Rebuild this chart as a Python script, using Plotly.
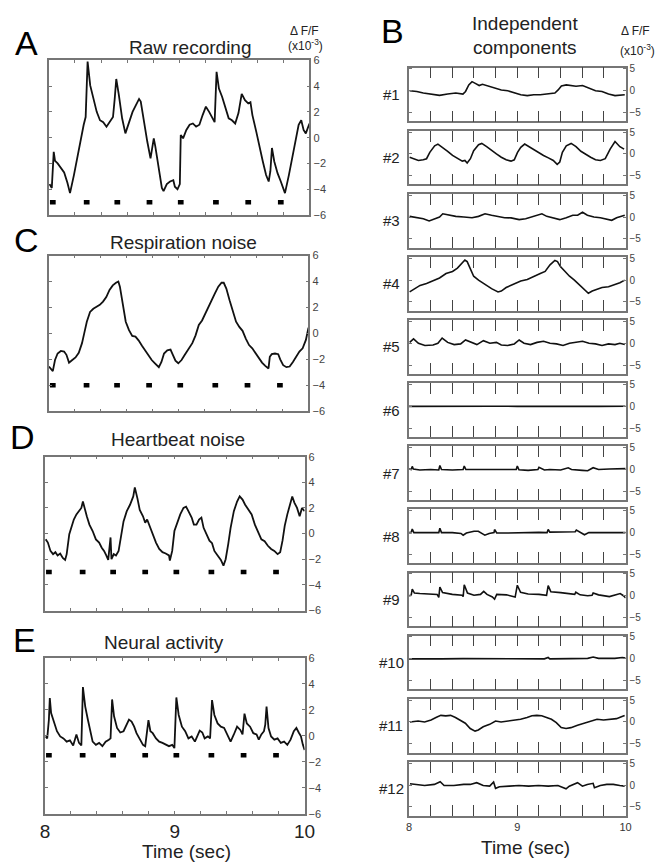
import plotly.graph_objects as go

W, H = 662, 868

# ---------------- data (time in s, dF/F x1e-3) ----------------
stim_times = [8.03, 8.29, 8.525, 8.772, 9.012, 9.282, 9.53, 9.78]
stim_level = {"A": -5.0, "C": -4.0, "D": -3.0, "E": -1.5}

raw_recording = [(8.005,-3.6),(8.022,-3.9),(8.037,-1.1),(8.047,-1.8),(8.067,-2.0),(8.092,-2.4),(8.117,-2.7),(8.142,-3.5),(8.162,-4.3),(8.192,-2.9),(8.217,-1.6),(8.242,-0.05),(8.267,1.0),(8.282,1.6),(8.297,5.9),(8.317,4.05),(8.342,3.0),(8.367,2.0),(8.392,1.35),(8.417,1.2),(8.442,0.85),(8.467,1.2),(8.492,1.6),(8.505,3.0),(8.517,4.55),(8.537,3.3),(8.562,1.5),(8.587,0.33),(8.612,1.1),(8.642,2.0),(8.667,2.5),(8.692,3.0),(8.705,2.8),(8.73,1.2),(8.755,-0.3),(8.78,-1.6),(8.792,-0.8),(8.805,-0.05),(8.817,-0.7),(8.842,-2.4),(8.867,-3.9),(8.88,-4.15),(8.905,-3.6),(8.93,-3.4),(8.955,-3.3),(8.967,-3.8),(8.987,-4.0),(9.005,-3.6),(9.012,0.2),(9.03,-0.05),(9.055,0.6),(9.08,1.0),(9.105,1.1),(9.13,0.85),(9.155,1.0),(9.18,1.75),(9.205,2.4),(9.23,2.0),(9.255,1.5),(9.272,1.2),(9.287,5.1),(9.305,3.8),(9.33,3.15),(9.355,2.25),(9.38,1.5),(9.405,1.35),(9.43,1.1),(9.455,1.9),(9.48,3.4),(9.505,2.9),(9.53,2.65),(9.547,2.75),(9.562,1.75),(9.592,0.45),(9.617,-0.8),(9.642,-1.85),(9.667,-2.9),(9.687,-3.4),(9.70,-2.6),(9.712,-0.8),(9.73,-1.85),(9.755,-2.75),(9.78,-3.4),(9.797,-3.8),(9.812,-4.3),(9.842,-2.9),(9.867,-1.6),(9.892,-0.05),(9.917,1.0),(9.937,1.35),(9.955,0.6),(9.972,0.33),(9.987,0.7),(10.0,1.1)]

respiration = [(8.0,-2.55),(8.03,-2.9),(8.047,-2.05),(8.067,-1.55),(8.092,-1.35),(8.117,-1.4),(8.135,-1.65),(8.155,-2.25),(8.18,-2.05),(8.205,-1.85),(8.23,-1.5),(8.255,-0.75),(8.272,0.0),(8.292,0.9),(8.317,1.65),(8.342,1.9),(8.367,2.05),(8.392,2.2),(8.417,2.45),(8.442,2.8),(8.467,3.35),(8.492,3.7),(8.517,3.9),(8.535,4.0),(8.547,3.6),(8.567,2.3),(8.592,0.9),(8.617,0.25),(8.642,-0.2),(8.667,-0.25),(8.692,-0.55),(8.717,-0.95),(8.742,-1.3),(8.767,-1.65),(8.792,-2.05),(8.817,-2.3),(8.847,-2.6),(8.867,-2.2),(8.887,-1.55),(8.912,-1.3),(8.937,-1.25),(8.955,-1.65),(8.975,-2.1),(8.997,-2.3),(9.022,-2.05),(9.047,-1.65),(9.072,-1.3),(9.105,-0.75),(9.13,-0.15),(9.155,0.65),(9.18,1.0),(9.205,1.55),(9.23,2.05),(9.255,2.55),(9.28,3.1),(9.305,3.6),(9.33,3.9),(9.347,3.9),(9.367,3.45),(9.392,2.55),(9.417,1.65),(9.442,0.9),(9.467,0.5),(9.492,0.2),(9.517,-0.4),(9.542,-0.9),(9.567,-1.15),(9.592,-1.55),(9.617,-1.9),(9.642,-2.25),(9.667,-2.5),(9.692,-2.7),(9.702,-1.8),(9.717,-1.6),(9.742,-1.55),(9.767,-1.6),(9.782,-2.0),(9.805,-2.45),(9.83,-2.6),(9.855,-2.55),(9.88,-2.2),(9.905,-1.8),(9.93,-1.4),(9.955,-1.15),(9.98,-0.5),(10.0,0.45)]

heartbeat = [(8.005,-0.45),(8.022,-0.7),(8.042,-1.35),(8.062,-1.6),(8.08,-1.45),(8.097,-1.7),(8.117,-1.55),(8.137,-1.9),(8.155,-2.05),(8.167,-1.6),(8.187,-0.05),(8.205,0.6),(8.222,1.1),(8.242,1.5),(8.262,1.75),(8.28,2.0),(8.292,2.5),(8.305,1.9),(8.322,1.35),(8.342,0.7),(8.367,0.2),(8.392,-0.45),(8.417,-0.7),(8.437,-1.1),(8.455,-1.35),(8.472,-1.7),(8.487,-2.05),(8.505,-0.3),(8.512,-2.0),(8.53,-1.6),(8.547,-1.7),(8.567,-1.35),(8.587,-0.05),(8.605,0.95),(8.63,1.75),(8.655,2.25),(8.68,2.9),(8.692,3.6),(8.712,2.75),(8.73,1.85),(8.755,1.35),(8.772,0.85),(8.787,1.1),(8.805,0.6),(8.83,-0.05),(8.855,-0.7),(8.88,-1.2),(8.905,-1.45),(8.93,-1.55),(8.955,-1.7),(8.962,-2.1),(8.98,-1.35),(8.997,0.2),(9.017,0.85),(9.042,1.5),(9.067,2.0),(9.087,2.1),(9.105,1.75),(9.13,1.25),(9.147,0.7),(9.167,0.7),(9.187,1.1),(9.205,1.25),(9.222,0.45),(9.242,-0.05),(9.267,-0.55),(9.287,-0.75),(9.305,-1.35),(9.33,-1.7),(9.355,-2.05),(9.375,-2.5),(9.392,-2.0),(9.412,-0.8),(9.43,0.45),(9.455,1.75),(9.48,2.5),(9.5,2.9),(9.522,2.65),(9.542,2.25),(9.567,1.85),(9.592,1.5),(9.617,0.7),(9.642,0.1),(9.667,-0.45),(9.692,-0.6),(9.717,-0.95),(9.742,-1.2),(9.767,-1.35),(9.792,-1.6),(9.812,-1.45),(9.83,-0.55),(9.847,0.6),(9.867,1.5),(9.887,2.25),(9.905,2.9),(9.922,2.4),(9.942,2.0),(9.962,1.35),(9.98,2.0),(10.0,1.75)]

neural = [(8.005,-0.05),(8.017,-0.2),(8.03,1.25),(8.037,2.9),(8.047,1.75),(8.067,1.1),(8.092,0.35),(8.117,-0.05),(8.142,-0.2),(8.167,-0.45),(8.192,-0.35),(8.217,-0.75),(8.242,0.1),(8.262,-0.55),(8.28,-0.75),(8.292,3.75),(8.31,2.25),(8.33,1.25),(8.347,0.35),(8.367,-0.45),(8.392,-0.7),(8.417,-0.55),(8.442,-0.8),(8.467,-0.45),(8.492,-0.3),(8.505,-0.2),(8.517,2.8),(8.532,1.5),(8.555,0.6),(8.58,0.25),(8.605,0.35),(8.63,0.95),(8.647,1.25),(8.667,1.1),(8.687,0.7),(8.705,0.2),(8.73,-0.2),(8.755,-0.7),(8.772,-0.8),(8.787,0.2),(8.797,1.2),(8.812,0.35),(8.83,0.2),(8.855,-0.2),(8.88,-0.45),(8.905,-0.55),(8.93,-0.7),(8.955,-0.8),(8.98,-0.7),(8.997,-0.95),(9.012,2.95),(9.03,1.6),(9.055,0.7),(9.08,0.35),(9.105,-0.2),(9.13,-0.05),(9.155,-0.45),(9.172,-0.05),(9.192,0.4),(9.212,0.25),(9.23,-0.2),(9.255,-0.05),(9.272,-0.2),(9.287,2.75),(9.305,1.6),(9.33,0.95),(9.355,0.7),(9.38,0.6),(9.405,0.1),(9.43,-0.45),(9.455,0.1),(9.48,0.7),(9.505,0.45),(9.522,0.1),(9.537,1.7),(9.555,0.95),(9.58,0.7),(9.605,0.2),(9.63,0.1),(9.647,-0.3),(9.667,0.1),(9.687,0.35),(9.697,0.85),(9.707,2.25),(9.722,0.6),(9.742,-0.05),(9.767,-0.3),(9.792,-0.2),(9.817,-0.55),(9.842,-0.45),(9.867,-0.7),(9.892,-0.3),(9.917,0.35),(9.937,0.6),(9.955,0.25),(9.972,-0.05),(9.987,-0.7),(10.0,-1.1)]

ic1 = [(8.006,0.0),(8.072,-0.15),(8.132,-0.5),(8.207,-0.75),(8.282,-1.05),(8.357,-0.75),(8.432,-0.5),(8.498,-0.75),(8.522,-0.15),(8.552,1.35),(8.582,2.1),(8.612,1.7),(8.648,1.2),(8.678,1.5),(8.717,1.2),(8.762,0.75),(8.807,0.45),(8.852,0.2),(8.912,0.0),(8.972,-0.5),(9.032,-0.9),(9.092,-1.1),(9.152,-0.9),(9.212,-0.9),(9.272,-0.75),(9.347,-0.5),(9.377,0.2),(9.407,1.1),(9.452,1.35),(9.497,1.2),(9.542,1.05),(9.602,1.2),(9.662,0.6),(9.722,0.0),(9.782,-0.15),(9.842,-0.75),(9.902,-1.1),(9.947,-1.05),(9.992,-0.9)]
ic2 = [(8.006,-0.75),(8.042,-1.1),(8.087,-1.5),(8.132,-1.35),(8.162,-1.1),(8.192,0.35),(8.237,1.85),(8.267,2.25),(8.312,1.5),(8.357,0.6),(8.402,-0.35),(8.447,-1.1),(8.492,-1.65),(8.516,-1.5),(8.537,-2.1),(8.567,-1.1),(8.597,0.75),(8.642,2.1),(8.672,2.4),(8.717,1.65),(8.762,0.75),(8.807,0.0),(8.852,-0.75),(8.897,-1.35),(8.942,-1.65),(8.972,-1.35),(9.002,0.35),(9.032,1.5),(9.068,2.25),(9.107,1.65),(9.152,0.9),(9.197,0.15),(9.242,-0.35),(9.287,-0.9),(9.332,-1.5),(9.368,-2.4),(9.392,-1.85),(9.416,0.35),(9.452,1.85),(9.497,2.4),(9.542,1.65),(9.587,0.6),(9.632,-0.15),(9.677,-0.75),(9.722,-1.35),(9.767,-1.5),(9.812,-1.1),(9.857,1.1),(9.902,2.85),(9.947,1.65),(9.986,1.1)]
ic3 = [(8.006,0.15),(8.072,-0.15),(8.132,-0.4),(8.186,-0.9),(8.237,-0.4),(8.282,0.0),(8.312,0.75),(8.372,0.4),(8.432,0.15),(8.507,0.0),(8.582,-0.15),(8.642,0.15),(8.702,0.75),(8.762,0.4),(8.822,0.15),(8.882,-0.15),(8.942,-0.2),(9.017,-0.6),(9.077,-0.4),(9.137,0.0),(9.182,0.4),(9.227,0.75),(9.272,0.15),(9.332,-0.15),(9.392,-0.6),(9.452,-0.15),(9.512,0.4),(9.557,0.4),(9.602,1.1),(9.647,0.4),(9.707,0.0),(9.767,-0.15),(9.827,-0.4),(9.872,-0.75),(9.917,-0.15),(9.992,0.4)]
ic4 = [(8.006,-2.7),(8.042,-2.1),(8.102,-1.2),(8.162,-0.75),(8.222,-0.2),(8.282,0.5),(8.342,1.5),(8.402,2.0),(8.447,2.75),(8.486,3.9),(8.516,4.6),(8.537,4.25),(8.567,2.4),(8.597,0.9),(8.642,0.0),(8.702,-1.0),(8.762,-1.95),(8.822,-2.7),(8.852,-2.5),(8.897,-1.7),(8.942,-1.2),(8.987,-0.75),(9.032,-0.2),(9.092,0.15),(9.152,0.75),(9.212,1.5),(9.257,2.0),(9.302,3.5),(9.347,4.5),(9.371,4.25),(9.398,3.1),(9.437,2.0),(9.482,0.9),(9.527,0.0),(9.572,-1.0),(9.617,-2.1),(9.656,-3.0),(9.692,-2.5),(9.737,-2.1),(9.782,-1.7),(9.842,-1.5),(9.902,-1.0),(9.947,-0.6),(9.992,0.0)]
ic5 = [(8.006,0.2),(8.042,1.0),(8.087,0.0),(8.147,-0.5),(8.222,-0.4),(8.267,0.0),(8.306,1.2),(8.357,0.2),(8.417,-0.3),(8.477,-0.15),(8.522,0.75),(8.582,0.2),(8.627,-0.3),(8.687,0.6),(8.747,0.0),(8.807,0.2),(8.852,-0.4),(8.912,-0.5),(8.972,-0.15),(9.017,0.75),(9.062,0.0),(9.122,-0.3),(9.182,0.2),(9.242,0.45),(9.302,0.0),(9.362,-0.15),(9.422,-0.5),(9.482,0.0),(9.542,0.2),(9.602,0.45),(9.662,0.0),(9.722,-0.15),(9.782,-0.5),(9.842,-0.15),(9.902,-0.3),(9.947,0.0),(9.992,-0.3)]
ic6 = [(8.0,0.0),(8.25,0.05),(8.5,-0.03),(8.75,0.04),(9.0,0.0),(9.25,-0.04),(9.5,0.03),(9.75,0.0),(10.0,0.02)]
ic7 = [(8.0,0.1),(8.02,0.0),(8.03,0.7),(8.04,0.1),(8.1,-0.1),(8.2,0.0),(8.275,-0.1),(8.285,0.9),(8.3,0.0),(8.4,-0.1),(8.5,0.0),(8.51,0.8),(8.525,0.0),(8.6,0.0),(8.7,-0.1),(8.8,0.05),(8.9,-0.1),(8.99,0.0),(9.0,0.8),(9.015,-0.05),(9.1,-0.2),(9.19,0.0),(9.2,0.5),(9.25,-0.1),(9.3,0.0),(9.4,-0.1),(9.47,0.4),(9.5,0.0),(9.6,-0.2),(9.65,-0.3),(9.7,0.4),(9.75,0.0),(9.85,0.1),(9.95,0.1),(10.0,0.2)]
ic8 = [(8.0,0.0),(8.02,0.0),(8.03,0.8),(8.045,0.0),(8.15,0.0),(8.25,-0.05),(8.275,0.0),(8.285,1.0),(8.3,0.0),(8.4,0.0),(8.48,-0.2),(8.5,-0.6),(8.53,-0.1),(8.6,0.3),(8.64,0.3),(8.68,-0.3),(8.7,-0.6),(8.74,-0.2),(8.785,0.0),(8.79,0.7),(8.81,-0.1),(8.9,-0.1),(9.0,0.0),(9.1,0.0),(9.2,0.05),(9.275,0.0),(9.285,0.7),(9.3,0.1),(9.4,0.1),(9.5,0.1),(9.535,0.2),(9.545,0.6),(9.58,0.0),(9.62,-0.5),(9.66,0.0),(9.75,0.0),(9.85,0.0),(9.95,-0.05),(10.0,0.0)]
ic9 = [(8.0,0.0),(8.02,0.1),(8.03,1.5),(8.05,0.6),(8.1,0.5),(8.2,0.3),(8.26,0.3),(8.275,-0.4),(8.285,2.0),(8.31,0.7),(8.4,0.3),(8.49,0.1),(8.5,-0.2),(8.51,2.5),(8.54,0.6),(8.6,0.1),(8.66,0.3),(8.69,1.0),(8.72,0.3),(8.77,-0.3),(8.79,-0.8),(8.81,0.3),(8.9,0.2),(8.98,-0.3),(9.0,2.4),(9.03,0.8),(9.1,0.4),(9.2,0.3),(9.27,0.1),(9.285,2.3),(9.31,0.9),(9.4,0.7),(9.5,0.4),(9.53,0.3),(9.54,0.8),(9.58,0.2),(9.65,0.0),(9.69,0.1),(9.7,0.6),(9.75,0.2),(9.85,-0.2),(9.92,0.2),(9.95,0.5),(9.98,0.0),(10.0,-0.5)]
ic10 = [(8.0,0.0),(8.2,0.0),(8.28,-0.15),(8.3,0.0),(8.5,0.05),(8.8,0.0),(9.0,0.05),(9.25,0.0),(9.285,0.3),(9.3,0.0),(9.5,0.05),(9.65,0.1),(9.7,0.4),(9.75,0.1),(9.9,0.1),(9.97,0.3),(10.0,0.2)]
ic11 = [(8.009,0.0),(8.084,0.2),(8.144,0.0),(8.204,0.45),(8.249,1.0),(8.294,1.5),(8.339,1.4),(8.384,1.5),(8.429,1.0),(8.474,0.45),(8.52,-0.3),(8.565,-1.5),(8.61,-2.1),(8.64,-1.85),(8.685,-1.1),(8.745,-0.55),(8.799,0.2),(8.85,0.0),(8.91,0.2),(8.97,0.45),(9.03,0.6),(9.09,1.0),(9.135,1.4),(9.18,1.5),(9.225,1.4),(9.27,1.0),(9.315,0.6),(9.36,-0.15),(9.405,-1.3),(9.45,-1.5),(9.495,-1.3),(9.556,-0.75),(9.616,-0.3),(9.676,0.0),(9.736,0.6),(9.796,0.45),(9.856,0.6),(9.916,0.75),(9.961,1.2),(9.991,1.5)]
ic12 = [(8.009,0.3),(8.054,0.15),(8.144,-0.1),(8.234,0.15),(8.288,0.75),(8.324,-0.1),(8.414,-0.1),(8.505,0.15),(8.565,0.15),(8.625,0.55),(8.685,-0.1),(8.745,-0.25),(8.781,0.7),(8.799,-0.75),(8.835,-0.4),(8.925,-0.25),(9.015,-0.1),(9.105,-0.25),(9.195,-0.1),(9.285,-0.25),(9.375,-0.1),(9.45,-0.85),(9.48,-0.25),(9.556,0.55),(9.601,-0.25),(9.646,0.15),(9.7,0.4),(9.712,-0.6),(9.766,-0.1),(9.826,0.15),(9.886,0.15),(9.946,-0.1),(9.991,-0.25)]

left_series = [("A", "Raw recording", raw_recording),
               ("C", "Respiration noise", respiration),
               ("D", "Heartbeat noise", heartbeat),
               ("E", "Neural activity", neural)]
components = [ic1, ic2, ic3, ic4, ic5, ic6, ic7, ic8, ic9, ic10, ic11, ic12]
component_labels = ["#%d" % (i + 1) for i in range(12)]

left_yticks = [-6, -4, -2, 0, 2, 4, 6]
right_yticks = [-5, 0, 5]
xticks = [round(8 + 0.2 * i, 1) for i in range(11)]
xticklabels = ["8" if v == 8 else "9" if v == 9 else "10" if v == 10 else " " for v in xticks]

# ---------------- layout geometry (pixels) ----------------
left_boxes = {"A": (45, 312, 55, 212), "C": (45, 311, 253, 411),
              "D": (41, 307, 457, 613), "E": (41, 307, 661, 819)}
right_x0, right_x1 = 414, 636
right_top0, right_step, right_h = 62.5, 64.0, 54.5

FONT = "Liberation Sans, Arial, Helvetica, sans-serif"
FRAME = "#767676"


def xdom(a, b):
    return [a / W, b / W]


def ydom(top, bottom):
    return [1 - bottom / H, 1 - top / H]


fig = go.Figure()
layout = dict(width=W, height=H, margin=dict(l=0, r=0, t=0, b=0),
              paper_bgcolor="white", plot_bgcolor="white", showlegend=False,
              font=dict(family=FONT, color="#222"))
annotations = []

idx = 0
for key, title, pts in left_series:
    idx += 1
    xa = "x" if idx == 1 else "x%d" % idx
    ya = "y" if idx == 1 else "y%d" % idx
    x0, x1, top, bot = left_boxes[key]
    ts = [p[0] for p in pts]
    vs = [p[1] for p in pts]
    fig.add_trace(go.Scatter(x=ts, y=vs, mode="lines", xaxis=xa, yaxis=ya,
                             line=dict(color="#111", width=1.8)))
    bx, by = [], []
    for t in stim_times:
        bx += [t - 0.022, t + 0.022, None]
        by += [stim_level[key], stim_level[key], None]
    fig.add_trace(go.Scatter(x=bx, y=by, mode="lines", xaxis=xa, yaxis=ya,
                             line=dict(color="black", width=4.5)))
    last = key == "E"
    layout["xaxis" if idx == 1 else "xaxis%d" % idx] = dict(
        domain=xdom(x0, x1), anchor=ya, range=[8, 10], tickvals=xticks,
        ticktext=xticklabels, showticklabels=last, ticks="inside", ticklen=3,
        tickcolor=FRAME, showline=True, linecolor=FRAME, linewidth=1.6,
        mirror="ticks", showgrid=False, zeroline=False,
        tickfont=dict(size=19, color="#222"))
    layout["yaxis" if idx == 1 else "yaxis%d" % idx] = dict(
        domain=ydom(top, bot), anchor=xa, range=[-6, 6], tickvals=left_yticks,
        side="right", ticks="inside", ticklen=3, tickcolor=FRAME,
        showline=True, linecolor=FRAME, linewidth=1.6, mirror="ticks",
        showgrid=False, zeroline=False, tickfont=dict(size=11, color="#444"))

for k, pts in enumerate(components):
    idx += 1
    xa = "x%d" % idx
    ya = "y%d" % idx
    top = right_top0 + right_step * k
    bot = top + right_h
    ts = [p[0] for p in pts]
    vs = [p[1] for p in pts]
    fig.add_trace(go.Scatter(x=ts, y=vs, mode="lines", xaxis=xa, yaxis=ya,
                             line=dict(color="#111", width=1.6)))
    last = k == 11
    layout["xaxis%d" % idx] = dict(
        domain=xdom(right_x0, right_x1), anchor=ya, range=[8, 10],
        tickvals=xticks, ticktext=xticklabels, showticklabels=last,
        ticks="inside", ticklen=11, tickcolor="#444", tickwidth=1.3,
        showline=True, linecolor=FRAME, linewidth=1.6, mirror="ticks",
        showgrid=False, zeroline=False, tickfont=dict(size=11, color="#333"))
    layout["yaxis%d" % idx] = dict(
        domain=ydom(top, bot), anchor=xa, range=[-7.0, 5.3],
        tickvals=right_yticks, side="right", ticks="inside", ticklen=3,
        tickcolor=FRAME, showline=True, linecolor=FRAME, linewidth=1.6,
        mirror="ticks", showgrid=False, zeroline=False,
        tickfont=dict(size=10, color="#444"))
    annotations.append(dict(text=component_labels[k], x=396 / W,
                            y=1 - (top + right_h / 2) / H, xref="paper",
                            yref="paper", showarrow=False, xanchor="center",
                            yanchor="middle", font=dict(size=15, color="#222")))


def note(text, px, py, size, color="#222"):
    annotations.append(dict(text=text, x=px / W, y=1 - py / H, xref="paper",
                            yref="paper", showarrow=False, xanchor="center",
                            yanchor="middle", font=dict(size=size, color=color)))


for letter, px, py in [("A", 22, 38), ("C", 22, 237), ("D", 18, 437),
                       ("E", 20, 643), ("B", 397, 25)]:
    note(letter, px, py, 34, "black")

for text, px, py in [("Raw recording", 190, 42), ("Respiration noise", 183, 240),
                     ("Heartbeat noise", 177, 440), ("Neural activity", 163, 645),
                     ("Independent", 533, 18), ("components", 533, 42)]:
    note(text, px, py, 19)

note("Δ F/F", 307, 25, 12)
note("(x10<sup>-3</sup>)", 308, 40, 12)
note("Δ F/F", 646, 25, 12)
note("(x10<sup>-3</sup>)", 648, 45, 12)
note("Time (sec)", 186, 857, 19)
note("Time (sec)", 533, 853, 19)

layout["annotations"] = annotations
fig.update_layout(**layout)
fig.write_html("out.html")
